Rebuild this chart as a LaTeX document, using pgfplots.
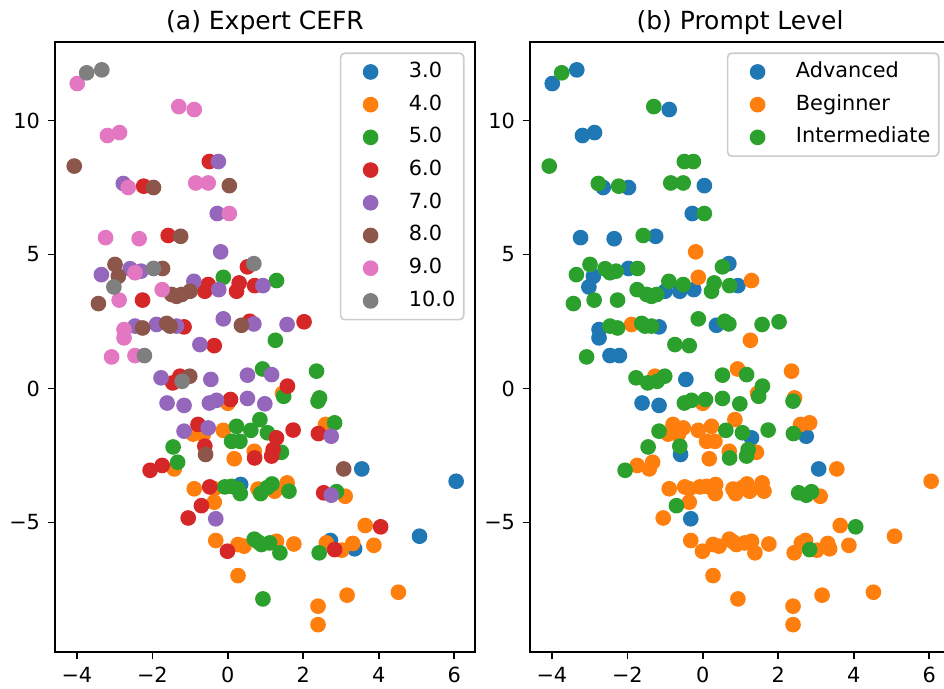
\documentclass[border=0pt]{standalone}
\usepackage{fontspec}
\setmainfont{DejaVu Sans}
\usepackage{pgfplots}
\usepackage{pgfplotstable}
\pgfplotsset{compat=1.18}

\definecolor{c0}{HTML}{1F77B4}
\definecolor{c1}{HTML}{FF7F0E}
\definecolor{c2}{HTML}{2CA02C}
\definecolor{c3}{HTML}{D62728}
\definecolor{c4}{HTML}{9467BD}
\definecolor{c5}{HTML}{8C564B}
\definecolor{c6}{HTML}{E377C2}
\definecolor{c7}{HTML}{7F7F7F}

% lvl: 1 = Advanced, 2 = Beginner, 3 = Intermediate
\pgfplotstableread{
x y cefr lvl
-3.74 11.78 10 3
-3.34 11.89 10 1
-3.99 11.38 9 1
-1.30 10.52 9 3
-0.89 10.41 9 1
-3.19 9.44 9 1
-2.87 9.55 9 1
-4.07 8.30 8 3
-0.49 8.47 6 3
-0.25 8.47 7 3
-2.77 7.65 7 3
-2.64 7.50 9 1
-2.23 7.55 6 3
-1.97 7.50 8 1
-0.85 7.67 9 3
-0.52 7.67 9 3
0.04 7.57 8 1
-0.28 6.53 7 1
0.04 6.53 9 3
-3.24 5.63 9 1
-2.35 5.59 9 1
-1.58 5.71 6 3
-1.25 5.68 8 1
-0.19 5.10 7 2
-3.35 4.25 7 3
-2.99 4.63 8 3
-2.90 4.19 8 1
-2.59 4.47 7 3
-2.30 4.38 7 3
-2.46 4.32 9 3
-1.97 4.48 10 1
-1.73 4.48 8 3
-3.02 3.79 10 1
-3.43 3.17 8 3
-2.88 3.30 9 3
-2.26 3.30 6 3
-1.74 3.69 9 3
-1.49 3.51 8 3
-1.36 3.44 8 3
-1.22 3.51 8 3
-1.00 3.63 8 1
-0.90 4.00 7 3
-0.52 3.88 6 3
-0.61 3.63 6 1
-0.24 3.69 7 1
-0.12 4.15 5 2
0.30 3.94 6 3
0.23 3.63 6 3
0.52 4.54 6 3
0.69 4.66 10 1
0.71 3.84 6 3
0.93 3.84 7 1
1.29 4.03 5 2
-0.12 2.60 7 3
0.58 2.51 6 3
0.69 2.41 7 3
0.36 2.36 8 1
1.57 2.39 7 3
2.02 2.49 6 3
1.26 1.80 5 2
-2.46 2.33 7 3
-2.26 2.26 8 3
-2.75 2.20 9 1
-2.75 1.89 9 1
-1.89 2.39 7 2
-1.62 2.43 8 3
-1.53 2.33 8 3
-1.36 2.33 7 3
-1.16 2.30 6 1
-0.74 1.64 7 3
-0.36 1.60 6 3
-3.08 1.18 9 3
-2.46 1.23 9 1
-2.21 1.23 10 1
-1.77 0.40 7 3
-1.46 0.21 6 3
-1.27 0.46 6 2
-1.01 0.46 8 3
-1.21 0.27 10 3
-0.45 0.34 7 1
0.52 0.50 7 3
1.16 0.52 7 3
0.92 0.73 5 2
2.35 0.65 5 2
1.58 0.09 6 3
1.48 -0.29 5 3
1.45 -0.18 4 2
2.43 -0.35 5 2
2.39 -0.47 5 3
0.98 -0.57 7 3
-1.61 -0.54 7 1
-1.16 -0.63 7 1
-0.49 -0.54 7 3
-0.30 -0.44 7 3
0.07 -0.41 6 3
0.00 -0.55 4 2
0.52 -0.37 7 3
-1.16 -1.59 7 3
-0.79 -1.34 6 2
-0.52 -1.47 7 2
-0.12 -1.56 4 2
0.23 -1.41 5 2
0.61 -1.56 5 3
0.85 -1.16 5 2
1.05 -1.65 5 3
-0.92 -1.70 4 2
-0.65 -1.72 4 2
-0.61 -2.15 6 3
-0.59 -2.46 8 1
-1.45 -2.18 5 3
-1.33 -2.75 5 2
-1.42 -3.00 4 2
-2.06 -3.05 6 3
-1.74 -2.87 6 2
0.17 -2.62 4 2
0.10 -1.97 5 2
0.32 -1.97 5 2
0.70 -2.34 4 2
0.71 -2.59 6 3
1.16 -2.52 6 3
1.20 -2.28 6 3
1.42 -2.38 5 2
1.29 -1.84 6 1
1.73 -1.55 6 3
2.40 -1.68 6 3
2.74 -1.78 7 1
2.59 -1.34 4 2
2.83 -1.28 5 2
3.07 -3.00 8 1
3.55 -3.00 3 2
6.05 -3.46 3 2
-0.89 -3.74 4 2
-0.48 -3.67 6 2
-0.36 -3.74 4 2
-0.08 -3.67 5 2
0.10 -3.65 5 2
0.26 -3.74 5 2
0.33 -3.92 5 2
0.34 -3.58 3 2
0.80 -3.75 4 2
0.87 -3.92 5 2
1.04 -3.70 5 2
1.17 -3.56 5 2
1.24 -3.83 4 2
1.57 -3.52 4 2
1.62 -3.83 5 2
2.54 -3.89 6 3
2.88 -3.85 5 3
2.74 -3.98 7 3
3.11 -4.02 4 2
-0.36 -4.24 4 2
-0.70 -4.37 6 3
-1.05 -4.83 6 2
-0.32 -4.86 7 1
-0.32 -5.67 4 2
-0.01 -6.07 6 2
0.27 -5.82 4 2
0.43 -5.88 4 2
0.70 -5.62 5 2
0.80 -5.72 5 2
0.89 -5.82 5 2
1.11 -5.76 5 2
1.29 -5.70 4 2
1.38 -6.13 5 2
1.75 -5.80 4 2
0.27 -6.98 4 2
0.93 -7.85 5 2
2.61 -5.76 4 2
2.72 -5.67 3 2
2.42 -6.13 5 2
2.83 -6.01 6 3
3.02 -6.03 4 2
3.31 -5.78 4 2
3.36 -5.98 3 2
3.64 -5.11 4 2
4.05 -5.16 6 3
5.08 -5.51 3 2
3.87 -5.85 4 2
2.39 -8.12 4 2
2.39 -8.81 4 2
3.16 -7.71 4 2
4.52 -7.60 4 2
}\pts

\pgfplotsset{
  panel/.style={
    scale only axis, width=201.6pt, height=292.8pt, anchor=south west,
    xmin=-4.58, xmax=6.55, ymin=-9.83, ymax=12.93,
    xtick={-4,-2,0,2,4,6}, xticklabels={−4,−2,0,2,4,6},
    ytick={-5,0,5,10}, yticklabels={−5,0,5,10},
    tick label style={font=\fontsize{10}{12}\selectfont, inner sep=0pt},
    xticklabel shift=3.5pt, yticklabel shift=3.5pt,
    tick align=outside, major tick length=3.5pt,
    xtick pos=left, ytick pos=left,
    every tick/.style={black, line width=0.8pt},
    axis line style={line width=0.8pt},
    title style={at={(0.5,1)}, anchor=base, yshift=0pt,
      font=\fontsize{12}{14}\selectfont},
    legend cell align=left,
    legend style={at={(0.975,0.983)}, anchor=north east,
      draw=black!20, line width=0.8pt, rounded corners=2pt, fill=white,
      font=\fontsize{10}{12}\selectfont, inner xsep=4pt, inner ysep=4pt,
      row sep=5.7pt, column sep=8pt,
      nodes={inner sep=0pt, text height=7.6pt, text depth=2.4pt}},
  },
  dots/.style n args={3}{only marks, mark=*, mark size=3pt, color=#1,
    mark options={line width=1.5pt},
    restrict expr to domain={\thisrow{#2}}{#3:#3},
    legend image code/.code={\path (-10pt,0pt) (10pt,0pt);
      \draw[##1] plot coordinates {(0pt,0pt)};}},
}

\begin{document}
\begin{tikzpicture}
\begin{axis}[panel, at={(26.4pt,-312.96pt)}, title={(a) Expert CEFR}]
  \addplot[dots={c0}{cefr}{3}] table[x=x, y=y] {\pts};
  \addlegendentry{3.0}
  \addplot[dots={c1}{cefr}{4}] table[x=x, y=y] {\pts};
  \addlegendentry{4.0}
  \addplot[dots={c2}{cefr}{5}] table[x=x, y=y] {\pts};
  \addlegendentry{5.0}
  \addplot[dots={c3}{cefr}{6}] table[x=x, y=y] {\pts};
  \addlegendentry{6.0}
  \addplot[dots={c4}{cefr}{7}] table[x=x, y=y] {\pts};
  \addlegendentry{7.0}
  \addplot[dots={c5}{cefr}{8}] table[x=x, y=y] {\pts};
  \addlegendentry{8.0}
  \addplot[dots={c6}{cefr}{9}] table[x=x, y=y] {\pts};
  \addlegendentry{9.0}
  \addplot[dots={c7}{cefr}{10}] table[x=x, y=y] {\pts};
  \addlegendentry{10.0}
\end{axis}
\begin{axis}[panel, at={(254.4pt,-312.96pt)}, title={(b) Prompt Level}]
  \addplot[dots={c0}{lvl}{1}] table[x=x, y=y] {\pts};
  \addlegendentry{Advanced}
  \addplot[dots={c1}{lvl}{2}] table[x=x, y=y] {\pts};
  \addlegendentry{Beginner}
  \addplot[dots={c2}{lvl}{3}] table[x=x, y=y] {\pts};
  \addlegendentry{Intermediate}
\end{axis}
\pgfresetboundingbox
\path[use as bounding box] (0pt,-330.72pt) rectangle (453.12pt,0pt);
\end{tikzpicture}
\end{document}
